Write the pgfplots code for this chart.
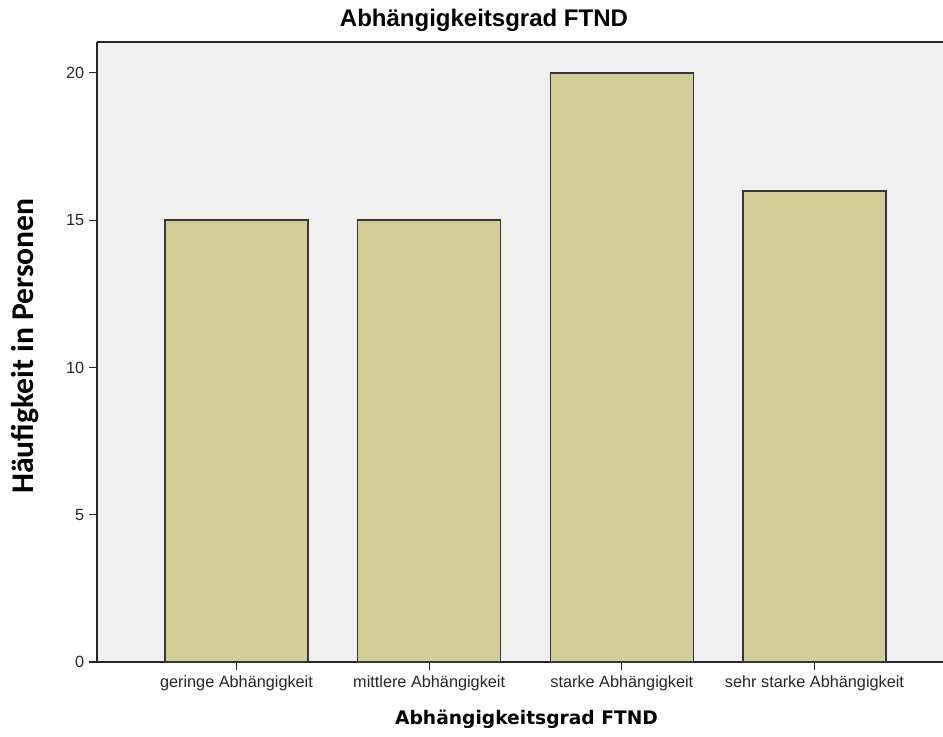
\documentclass[border=0pt]{standalone}
\usepackage{pgfplots}
\pgfplotsset{compat=1.18}
\usepackage{fontspec}
\setmainfont{Liberation Sans}
\newfontfamily\carlito{Carlito}
\newfontfamily\dejavu{DejaVu Sans}
\definecolor{barfill}{RGB}{211,206,151}
\definecolor{plotbg}{RGB}{240,240,240}
\definecolor{edge}{RGB}{55,55,55}
\begin{document}
\begin{tikzpicture}
\useasboundingbox (0,0) rectangle (707.25pt,552pt);
\begin{axis}[
  at={(72.75pt,55.5pt)}, anchor=south west,
  scale only axis, width=634.5pt, height=465pt,
  xmin=-0.724, xmax=3.667, ymin=0, ymax=21.05,
  axis background/.style={fill=plotbg},
  axis lines=left,
  axis line style={-, line width=1.1pt, color=black!85},
  tick align=outside,
  major tick length=6pt,
  tick style={line width=0.8pt, color=black!85},
  xtick={0,1,2,3},
  xticklabels={geringe Abhängigkeit, mittlere Abhängigkeit, starke Abhängigkeit, sehr starke Abhängigkeit},
  xticklabel style={yshift=-1pt},
  ytick={0,5,10,15,20},
  /pgf/number format/assume math mode=true,
  ticklabel style={font=\fontsize{12.2}{14}\selectfont, text=black!85},
  title={Abhängigkeitsgrad FTND},
  title style={at={(axis description cs:0.4574,1.022)}, anchor=center, font=\fontsize{18}{20}\selectfont\bfseries},
  xlabel={Abhängigkeitsgrad FTND},
  xlabel style={at={(axis description cs:0.5077,-0.093)}, anchor=center, font=\dejavu\fontsize{14}{16}\selectfont\bfseries},
  ylabel={Häufigkeit in Personen},
  ylabel style={at={(axis description cs:-0.0851,0.5097)}, anchor=center, font=\carlito\fontsize{23.7}{26}\selectfont\bfseries},
  clip=false,
]
\addplot[ybar, bar width=0.742, fill=barfill, draw=edge, line width=1.2pt] coordinates {
  (0,15) (1,15) (2,20) (3,16)
};
\draw[line width=1.1pt, color=black!85] (rel axis cs:0,1) -- (rel axis cs:1,1);
\end{axis}
\end{tikzpicture}
\end{document}
